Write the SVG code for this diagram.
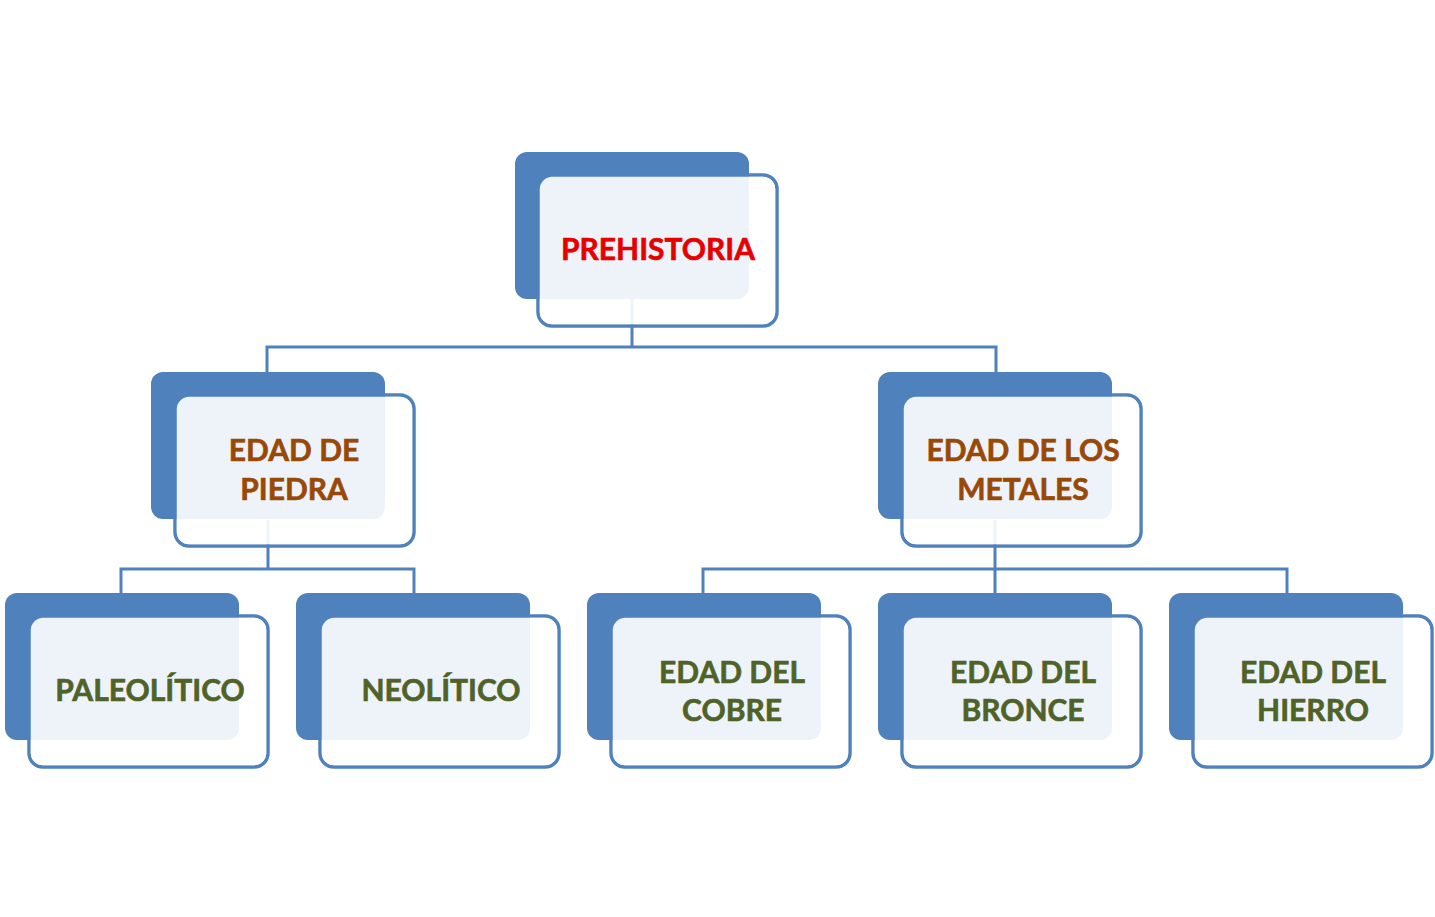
<svg xmlns="http://www.w3.org/2000/svg" width="1435" height="917" viewBox="0 0 1435 917">
<style>
.frame{fill:#ffffff;stroke:#4f81bd;stroke-width:3.5}
.back{fill:#4f81bd}
.veil{fill:#ffffff;fill-opacity:0.9}
.conn{fill:none;stroke:#4f81bd;stroke-width:3}
text{font-family:Lato,"Liberation Sans",sans-serif;font-weight:bold;font-size:30px;text-anchor:middle;stroke-width:0.6}
.red{fill:#e60000;stroke:#e60000}
.brown{fill:#984807;stroke:#984807}
.green{fill:#4f6228;stroke:#4f6228}
</style>
<defs>
<rect id="bk" x="0" y="0" width="234" height="147" rx="12"/>
<rect id="fr" x="23" y="23" width="239" height="151" rx="14"/>
<rect id="vl" x="24.75" y="24.75" width="235.5" height="147.5" rx="12.5"/>
</defs>
<rect width="1435" height="917" fill="#ffffff"/>
<g id="frames">
<use href="#fr" class="frame" x="515" y="152"/>
<use href="#fr" class="frame" x="152" y="372"/>
<use href="#fr" class="frame" x="879" y="372"/>
<use href="#fr" class="frame" x="6" y="593"/>
<use href="#fr" class="frame" x="297" y="593"/>
<use href="#fr" class="frame" x="588" y="593"/>
<use href="#fr" class="frame" x="879" y="593"/>
<use href="#fr" class="frame" x="1170" y="593"/>
</g>
<g id="backs">
<use href="#bk" class="back" x="515" y="152"/>
<use href="#bk" class="back" x="151" y="372"/>
<use href="#bk" class="back" x="878" y="372"/>
<use href="#bk" class="back" x="5" y="593"/>
<use href="#bk" class="back" x="296" y="593"/>
<use href="#bk" class="back" x="587" y="593"/>
<use href="#bk" class="back" x="878" y="593"/>
<use href="#bk" class="back" x="1169" y="593"/>
</g>
<g id="connectors">
<path class="conn" d="M632 298 V347 M267 373 V347 H996 V373"/>
<path class="conn" d="M268 520 V569 M121 594 V569 H414 V594"/>
<path class="conn" d="M995 520 V569 M703 594 V569 H1287 V594 M995 569 V594"/>
</g>
<g id="prehistoria">
<use href="#vl" class="veil" x="515" y="152"/>
<text class="red" x="658" y="260">PREHISTORIA</text>
</g>
<g id="edad-piedra">
<use href="#vl" class="veil" x="152" y="372"/>
<text class="brown" x="294" y="461">EDAD DE</text>
<text class="brown" x="294" y="500">PIEDRA</text>
</g>
<g id="edad-metales">
<use href="#vl" class="veil" x="879" y="372"/>
<text class="brown" x="1023" y="461">EDAD DE LOS</text>
<text class="brown" x="1023" y="500">METALES</text>
</g>
<g id="paleolitico">
<use href="#vl" class="veil" x="6" y="593"/>
<text class="green" x="150" y="701">PALEOLÍTICO</text>
</g>
<g id="neolitico">
<use href="#vl" class="veil" x="297" y="593"/>
<text class="green" x="441" y="701">NEOLÍTICO</text>
</g>
<g id="cobre">
<use href="#vl" class="veil" x="588" y="593"/>
<text class="green" x="732" y="683">EDAD DEL</text>
<text class="green" x="732" y="721">COBRE</text>
</g>
<g id="bronce">
<use href="#vl" class="veil" x="879" y="593"/>
<text class="green" x="1023" y="683">EDAD DEL</text>
<text class="green" x="1023" y="721">BRONCE</text>
</g>
<g id="hierro">
<use href="#vl" class="veil" x="1170" y="593"/>
<text class="green" x="1313" y="683">EDAD DEL</text>
<text class="green" x="1313" y="721">HIERRO</text>
</g>
</svg>
